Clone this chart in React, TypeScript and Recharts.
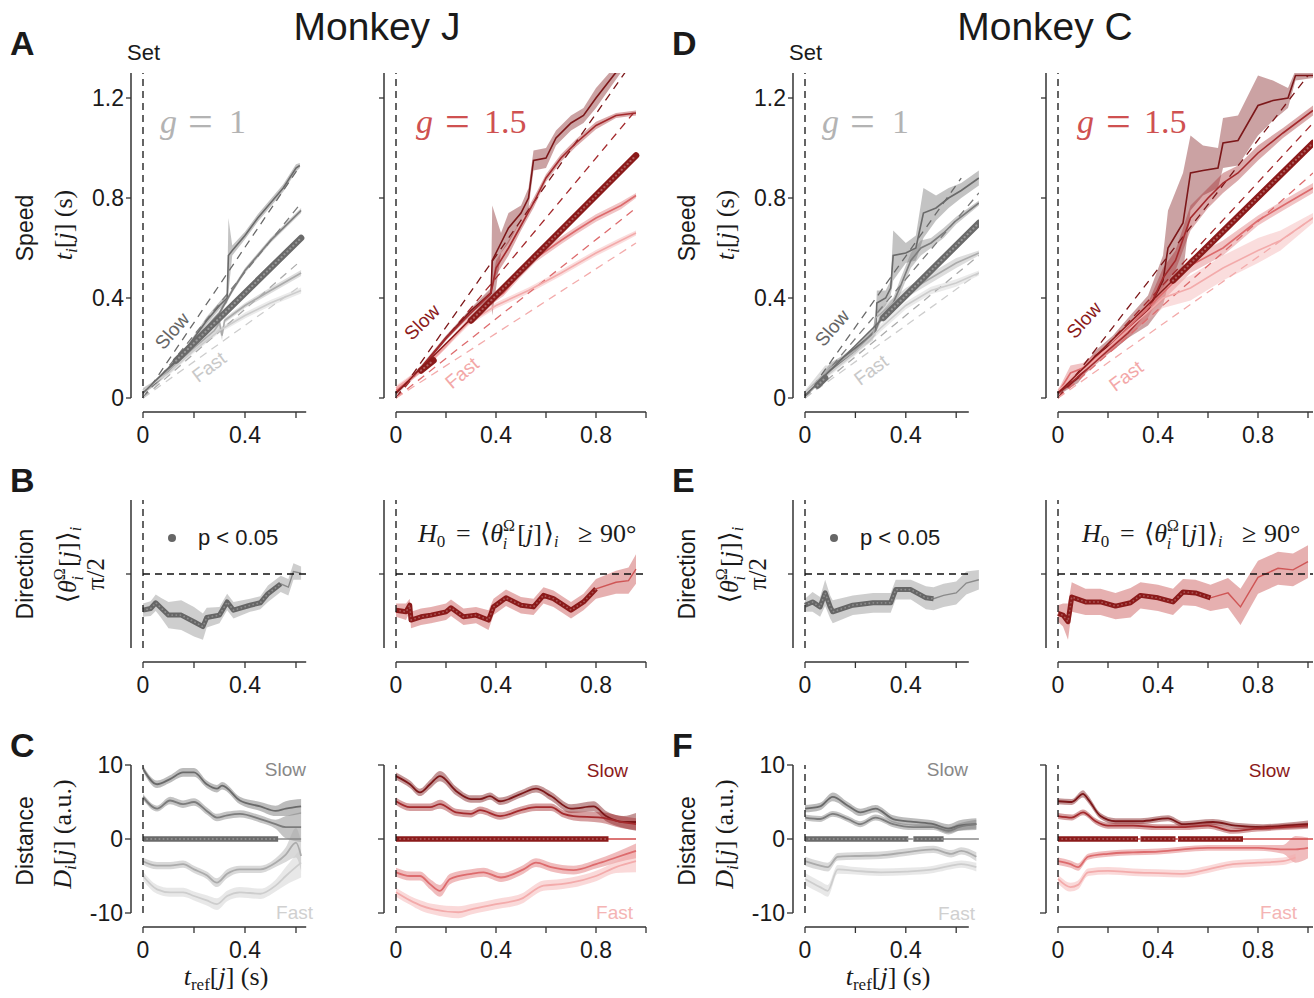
import React from 'react';
import { ComposedChart, Line, Area, XAxis, YAxis, ReferenceLine } from 'recharts';

type Pt = [number, number, number]; // [t_ref, value, spread]
type XY = [number, number];

// ---------- Speed: t_i[j] vs t_ref[j] ----------
const jSpeedG1Slow1: Pt[] = [[0, 0.03, 0.01], [0.05, 0.06, 0.01], [0.1, 0.11, 0.01], [0.15, 0.17, 0.01], [0.2, 0.24, 0.01], [0.25, 0.31, 0.015], [0.3, 0.37, 0.015], [0.33, 0.4, 0.02], [0.335, 0.57, 0.15], [0.35, 0.59, 0.02], [0.4, 0.65, 0.015], [0.45, 0.72, 0.015], [0.5, 0.78, 0.015], [0.55, 0.84, 0.015], [0.6, 0.92, 0.015], [0.615, 0.93, 0.01]];
const jSpeedG1Slow2: Pt[] = [[0, 0.02, 0.005], [0.1, 0.12, 0.005], [0.2, 0.23, 0.008], [0.3, 0.34, 0.01], [0.35, 0.43, 0.01], [0.4, 0.51, 0.01], [0.45, 0.57, 0.01], [0.5, 0.63, 0.01], [0.55, 0.68, 0.01], [0.6, 0.73, 0.01], [0.62, 0.75, 0.01]];
const jSpeedG1Fast1: Pt[] = [[0, 0.02, 0.01], [0.1, 0.11, 0.01], [0.2, 0.2, 0.01], [0.28, 0.27, 0.01], [0.3, 0.3, 0.03], [0.31, 0.25, 0.02], [0.32, 0.31, 0.01], [0.4, 0.37, 0.01], [0.5, 0.43, 0.012], [0.62, 0.5, 0.012]];
const jSpeedG1Fast2: Pt[] = [[0, 0.03, 0.01], [0.1, 0.1, 0.01], [0.2, 0.19, 0.01], [0.3, 0.27, 0.01], [0.4, 0.33, 0.012], [0.5, 0.38, 0.012], [0.62, 0.43, 0.012]];
const jSpeedG1Ref: XY[] = [[0, 0.02], [0.62, 0.64]];
const jSpeedG1RefSig: XY[][] = [[[0.13, 0.15], [0.62, 0.64]]];
const jSpeedG1Guide: XY[] = [[0.61, 0.92], [0.62, 0.78], [0.62, 0.55], [0.62, 0.45]];

const jSpeedG15Slow1: Pt[] = [[0, 0.02, 0.01], [0.1, 0.12, 0.01], [0.2, 0.24, 0.01], [0.3, 0.35, 0.01], [0.38, 0.42, 0.02], [0.385, 0.55, 0.22], [0.42, 0.62, 0.04], [0.45, 0.68, 0.06], [0.5, 0.74, 0.03], [0.53, 0.8, 0.04], [0.55, 0.95, 0.04], [0.6, 0.96, 0.04], [0.64, 1.04, 0.03], [0.7, 1.1, 0.03], [0.75, 1.13, 0.03], [0.8, 1.2, 0.04], [0.87, 1.29, 0.03], [0.92, 1.35, 0.02]];
const jSpeedG15Slow2: Pt[] = [[0, 0.02, 0.005], [0.1, 0.12, 0.005], [0.2, 0.24, 0.008], [0.3, 0.34, 0.01], [0.38, 0.42, 0.01], [0.4, 0.52, 0.03], [0.45, 0.6, 0.03], [0.5, 0.69, 0.02], [0.55, 0.78, 0.02], [0.6, 0.88, 0.015], [0.66, 0.96, 0.015], [0.72, 1.02, 0.015], [0.8, 1.09, 0.015], [0.88, 1.13, 0.01], [0.96, 1.14, 0.01]];
const jSpeedG15Fast1: Pt[] = [[0, 0.03, 0.01], [0.1, 0.11, 0.01], [0.2, 0.21, 0.01], [0.29, 0.31, 0.01], [0.36, 0.37, 0.012], [0.43, 0.42, 0.012], [0.5, 0.5, 0.015], [0.56, 0.56, 0.015], [0.66, 0.63, 0.015], [0.72, 0.67, 0.015], [0.8, 0.72, 0.015], [0.9, 0.77, 0.015], [0.96, 0.81, 0.01]];
const jSpeedG15Fast2: Pt[] = [[0, 0.04, 0.01], [0.1, 0.11, 0.01], [0.2, 0.21, 0.01], [0.29, 0.3, 0.01], [0.4, 0.37, 0.012], [0.53, 0.43, 0.012], [0.66, 0.5, 0.012], [0.8, 0.58, 0.012], [0.9, 0.63, 0.012], [0.96, 0.66, 0.01]];
const jSpeedG15Ref: XY[] = [[0, 0.02], [0.96, 0.97]];
const jSpeedG15RefSig: XY[][] = [[[0.1, 0.11], [0.15, 0.15]], [[0.3, 0.31], [0.96, 0.97]]];
const jSpeedG15Guide: XY[] = [[0.95, 1.35], [0.95, 1.14], [0.96, 0.76], [0.96, 0.62]];

const cSpeedG1Slow1: Pt[] = [[0, 0.01, 0.01], [0.05, 0.06, 0.01], [0.1, 0.12, 0.02], [0.15, 0.16, 0.01], [0.2, 0.2, 0.01], [0.25, 0.24, 0.02], [0.28, 0.27, 0.02], [0.285, 0.38, 0.05], [0.32, 0.4, 0.03], [0.34, 0.44, 0.03], [0.35, 0.57, 0.1], [0.4, 0.58, 0.04], [0.44, 0.6, 0.05], [0.47, 0.74, 0.1], [0.52, 0.76, 0.05], [0.57, 0.8, 0.04], [0.62, 0.83, 0.03], [0.69, 0.88, 0.03]];
const cSpeedG1Slow2: Pt[] = [[0, 0.01, 0.005], [0.1, 0.11, 0.005], [0.2, 0.19, 0.01], [0.28, 0.27, 0.01], [0.3, 0.32, 0.02], [0.35, 0.38, 0.02], [0.38, 0.45, 0.03], [0.42, 0.55, 0.03], [0.46, 0.6, 0.03], [0.5, 0.62, 0.02], [0.55, 0.66, 0.02], [0.6, 0.71, 0.015], [0.69, 0.78, 0.01]];
const cSpeedG1Fast1: Pt[] = [[0, 0.02, 0.01], [0.08, 0.1, 0.03], [0.1, 0.12, 0.01], [0.2, 0.19, 0.01], [0.27, 0.25, 0.02], [0.28, 0.32, 0.03], [0.35, 0.38, 0.02], [0.4, 0.42, 0.02], [0.5, 0.48, 0.02], [0.6, 0.54, 0.02], [0.69, 0.58, 0.01]];
const cSpeedG1Fast2: Pt[] = [[0, 0.02, 0.01], [0.1, 0.1, 0.01], [0.2, 0.18, 0.01], [0.3, 0.28, 0.015], [0.4, 0.37, 0.015], [0.5, 0.43, 0.015], [0.6, 0.46, 0.015], [0.69, 0.5, 0.01]];
const cSpeedG1Ref: XY[] = [[0, 0.01], [0.69, 0.7]];
const cSpeedG1RefSig: XY[][] = [[[0.05, 0.05], [0.08, 0.08]], [[0.31, 0.32], [0.69, 0.7]]];
const cSpeedG1Guide: XY[] = [[0.62, 0.88], [0.69, 0.82], [0.69, 0.57], [0.69, 0.5]];

const cSpeedG15Slow1: Pt[] = [[0, 0.02, 0.01], [0.08, 0.08, 0.02], [0.15, 0.17, 0.02], [0.22, 0.22, 0.03], [0.28, 0.28, 0.04], [0.36, 0.35, 0.06], [0.42, 0.47, 0.1], [0.44, 0.6, 0.15], [0.5, 0.7, 0.2], [0.53, 0.9, 0.15], [0.58, 0.91, 0.1], [0.64, 0.92, 0.08], [0.66, 1.02, 0.1], [0.72, 1.03, 0.1], [0.8, 1.17, 0.12], [0.86, 1.19, 0.08], [0.92, 1.2, 0.04], [0.95, 1.29, 0.02], [1.02, 1.29, 0.01]];
const cSpeedG15Slow2: Pt[] = [[0, 0.02, 0.01], [0.1, 0.1, 0.01], [0.2, 0.19, 0.015], [0.28, 0.26, 0.02], [0.36, 0.35, 0.03], [0.42, 0.48, 0.04], [0.47, 0.55, 0.04], [0.53, 0.72, 0.05], [0.6, 0.8, 0.04], [0.66, 0.86, 0.04], [0.72, 0.9, 0.03], [0.8, 0.98, 0.03], [0.9, 1.06, 0.02], [1.02, 1.15, 0.02]];
const cSpeedG15Fast1: Pt[] = [[0, 0.02, 0.01], [0.05, 0.1, 0.03], [0.1, 0.12, 0.02], [0.2, 0.2, 0.02], [0.3, 0.3, 0.02], [0.42, 0.42, 0.03], [0.53, 0.53, 0.03], [0.66, 0.6, 0.03], [0.8, 0.71, 0.02], [0.9, 0.77, 0.02], [1.02, 0.84, 0.02]];
const cSpeedG15Fast2: Pt[] = [[0, 0.03, 0.01], [0.1, 0.11, 0.02], [0.2, 0.2, 0.02], [0.3, 0.29, 0.03], [0.42, 0.4, 0.04], [0.53, 0.44, 0.05], [0.66, 0.52, 0.05], [0.8, 0.59, 0.05], [0.89, 0.63, 0.04], [1.02, 0.72, 0.02]];
const cSpeedG15Ref: XY[] = [[0, 0.02], [1.02, 1.02]];
const cSpeedG15RefSig: XY[][] = [[[0.46, 0.47], [1.02, 1.02]]];
const cSpeedG15Guide: XY[] = [[1.0, 1.29], [1.02, 1.1], [1.02, 0.9], [1.02, 0.72]];

// ---------- Direction: <theta>, degrees ----------
const jDirG1: Pt[] = [[0, 46, 8], [0.03, 48, 9], [0.05, 55, 10], [0.07, 49, 12], [0.1, 40, 16], [0.15, 40, 18], [0.2, 32, 18], [0.235, 26, 16], [0.25, 37, 12], [0.3, 40, 10], [0.33, 56, 10], [0.355, 46, 10], [0.42, 52, 8], [0.46, 55, 8], [0.49, 66, 10], [0.54, 78, 10], [0.57, 74, 10], [0.59, 93, 10], [0.62, 91, 8]];
const jDirG1Sig = 0.56;
const jDirG15: Pt[] = [[0, 46, 8], [0.04, 44, 10], [0.055, 52, 8], [0.06, 34, 10], [0.1, 38, 10], [0.14, 40, 10], [0.2, 44, 10], [0.22, 49, 10], [0.27, 38, 10], [0.32, 40, 10], [0.37, 34, 12], [0.39, 50, 10], [0.44, 61, 10], [0.5, 52, 10], [0.55, 50, 10], [0.59, 64, 10], [0.63, 60, 10], [0.7, 46, 10], [0.75, 56, 10], [0.8, 72, 12], [0.88, 80, 14], [0.93, 82, 16], [0.96, 96, 18]];
const jDirG15Sig = 0.8;
const cDirG1: Pt[] = [[0, 52, 8], [0.03, 56, 12], [0.06, 50, 12], [0.08, 67, 16], [0.1, 50, 14], [0.11, 44, 14], [0.19, 52, 12], [0.27, 55, 12], [0.34, 55, 12], [0.36, 71, 12], [0.42, 71, 12], [0.48, 61, 14], [0.51, 60, 14], [0.55, 64, 14], [0.6, 67, 14], [0.64, 79, 14], [0.69, 83, 12]];
const cDirG1Sig = 0.52;
const cDirG15: Pt[] = [[0, 42, 10], [0.02, 40, 14], [0.04, 32, 22], [0.055, 62, 18], [0.11, 56, 16], [0.17, 56, 16], [0.23, 51, 16], [0.29, 55, 18], [0.33, 64, 16], [0.4, 61, 16], [0.46, 56, 16], [0.5, 68, 16], [0.55, 67, 16], [0.61, 61, 16], [0.68, 67, 18], [0.73, 50, 22], [0.8, 86, 20], [0.88, 97, 20], [0.94, 95, 20], [1.0, 105, 20]];
const cDirG15Sig = 0.62;

// ---------- Distance: D_i[j], a.u. ----------
const jDistG1Slow1: Pt[] = [[0, 9.5, 0.4], [0.055, 7.4, 0.5], [0.106, 8.1, 0.5], [0.157, 9, 0.6], [0.2, 9, 0.6], [0.25, 7.4, 0.5], [0.29, 6.8, 0.5], [0.31, 7.2, 0.5], [0.38, 5.2, 0.5], [0.46, 4.4, 0.6], [0.52, 3.8, 0.7], [0.56, 4.1, 1.0], [0.62, 4.4, 1.0]];
const jDistG1Slow2: Pt[] = [[0, 5.7, 0.4], [0.055, 4.1, 0.4], [0.106, 5.2, 0.5], [0.157, 4.7, 0.5], [0.2, 5, 0.5], [0.25, 3.8, 0.5], [0.29, 2.9, 0.5], [0.33, 3.2, 0.5], [0.38, 3.4, 0.5], [0.46, 2.7, 0.5], [0.52, 2, 0.6], [0.56, 1.6, 1.5], [0.62, 1.6, 2]];
const jDistG1Fast1: Pt[] = [[0, -3, 0.5], [0.055, -3.6, 0.5], [0.106, -3.6, 0.5], [0.157, -3.4, 0.5], [0.2, -4.1, 0.5], [0.25, -4.9, 0.5], [0.29, -5.9, 0.6], [0.33, -4.7, 0.6], [0.38, -4.1, 0.5], [0.46, -4.1, 0.5], [0.52, -3.2, 0.6], [0.56, -2.1, 1], [0.6, -0.5, 2], [0.62, -2.3, 2]];
const jDistG1Fast2: Pt[] = [[0, -5, 0.6], [0.055, -6.8, 0.6], [0.106, -7.2, 0.6], [0.157, -7.2, 0.6], [0.2, -7.7, 0.6], [0.25, -8.3, 0.7], [0.29, -8.8, 0.8], [0.33, -7.7, 0.7], [0.38, -7.2, 0.7], [0.46, -7.4, 0.7], [0.52, -6.3, 0.8], [0.56, -5, 1.2], [0.62, -3.2, 2]];
const jDistG1ZeroEnd = 0.62;
const jDistG1ZeroSig: XY[] = [[0, 0.53]];

const jDistG15Slow1: Pt[] = [[0, 8.5, 0.5], [0.056, 7.4, 0.5], [0.096, 6.3, 0.5], [0.136, 7.4, 0.6], [0.176, 8.5, 0.7], [0.24, 6.5, 0.6], [0.3, 5.4, 0.5], [0.336, 5.4, 0.5], [0.376, 5.8, 0.5], [0.416, 5.1, 0.5], [0.5, 6.1, 0.5], [0.56, 6.8, 0.5], [0.62, 5.8, 0.6], [0.7, 4.1, 0.6], [0.79, 4.4, 0.7], [0.84, 3.1, 0.7], [0.91, 2.3, 0.8], [0.96, 2.3, 1.2]];
const jDistG15Slow2: Pt[] = [[0, 5.1, 0.5], [0.056, 4.3, 0.5], [0.096, 4.3, 0.5], [0.136, 4.3, 0.5], [0.176, 4.7, 0.6], [0.24, 3.6, 0.5], [0.3, 3.4, 0.5], [0.336, 3.9, 0.5], [0.416, 3.1, 0.5], [0.5, 3.9, 0.5], [0.56, 4.3, 0.5], [0.62, 4.3, 0.5], [0.67, 3.4, 0.5], [0.71, 3.1, 0.6], [0.82, 2.9, 0.7], [0.9, 2.3, 0.8], [0.96, 2.0, 0.8]];
const jDistG15Fast1: Pt[] = [[0, -4.5, 0.6], [0.056, -5, 0.6], [0.096, -5, 0.6], [0.136, -6.1, 0.7], [0.176, -7, 0.8], [0.216, -5.4, 0.7], [0.3, -4.7, 0.6], [0.35, -4.5, 0.6], [0.42, -5.2, 0.6], [0.51, -4.1, 0.6], [0.56, -3.2, 0.6], [0.62, -3.8, 0.6], [0.71, -4.2, 0.6], [0.8, -3.4, 0.6], [0.88, -2.5, 0.7], [0.96, -1.6, 1]];
const jDistG15Fast2: Pt[] = [[0, -7.2, 0.6], [0.056, -8.3, 0.6], [0.1, -9, 0.7], [0.15, -9.5, 0.7], [0.25, -9.9, 0.8], [0.3, -9.5, 0.7], [0.4, -8.8, 0.7], [0.5, -8.1, 0.7], [0.59, -6.3, 0.7], [0.66, -6.1, 0.7], [0.7, -5.9, 0.7], [0.8, -5, 0.7], [0.88, -3.8, 0.8], [0.96, -3, 1.5]];
const jDistG15ZeroEnd = 0.96;
const jDistG15ZeroSig: XY[] = [[0, 0.85]];

const cDistG1Slow1: Pt[] = [[0, 4.1, 0.5], [0.06, 4.4, 0.5], [0.11, 5.7, 0.6], [0.17, 4.5, 0.5], [0.22, 3.6, 0.5], [0.28, 4.1, 0.5], [0.35, 2.7, 0.5], [0.43, 2.3, 0.5], [0.51, 2, 0.5], [0.57, 1.4, 0.6], [0.61, 1.8, 0.7], [0.68, 2, 0.8]];
const cDistG1Slow2: Pt[] = [[0, 2.9, 0.4], [0.06, 2.7, 0.4], [0.11, 3.4, 0.4], [0.17, 2.7, 0.4], [0.22, 2, 0.4], [0.28, 2.9, 0.4], [0.35, 2, 0.4], [0.43, 1.6, 0.4], [0.51, 1.6, 0.4], [0.57, 1.1, 0.5], [0.61, 1.6, 0.5], [0.68, 2, 0.6]];
const cDistG1Fast1: Pt[] = [[0, -3, 0.6], [0.06, -3.6, 0.6], [0.09, -3.8, 0.6], [0.13, -2.4, 0.5], [0.2, -2.3, 0.5], [0.3, -2.2, 0.5], [0.4, -1.8, 0.5], [0.51, -1.4, 0.5], [0.58, -2, 0.5], [0.62, -1.6, 0.5], [0.68, -2.4, 0.6]];
const cDistG1Fast2: Pt[] = [[0, -5.4, 0.8], [0.06, -6.5, 0.8], [0.09, -7, 0.8], [0.13, -4.1, 0.6], [0.2, -4.3, 0.5], [0.3, -4.5, 0.5], [0.4, -4.4, 0.5], [0.51, -4.1, 0.5], [0.58, -3.6, 0.5], [0.62, -3.4, 0.5], [0.68, -3.8, 0.6]];
const cDistG1ZeroEnd = 0.69;
const cDistG1ZeroSig: XY[] = [[0, 0.41], [0.43, 0.55]];

const cDistG15Slow1: Pt[] = [[0, 5.1, 0.4], [0.055, 5, 0.4], [0.1, 6.1, 0.5], [0.12, 5.4, 0.5], [0.17, 3.1, 0.4], [0.23, 2.4, 0.4], [0.33, 2.4, 0.4], [0.44, 2.8, 0.4], [0.5, 2, 0.4], [0.62, 2.3, 0.4], [0.71, 1.8, 0.4], [0.82, 1.6, 0.4], [0.91, 1.8, 0.4], [1.0, 2, 0.5]];
const cDistG15Slow2: Pt[] = [[0, 3.1, 0.4], [0.055, 2.9, 0.4], [0.1, 3.6, 0.4], [0.15, 2.4, 0.4], [0.2, 1.8, 0.4], [0.3, 1.8, 0.4], [0.4, 1.6, 0.4], [0.5, 1.6, 0.4], [0.6, 1.8, 0.4], [0.7, 1.1, 0.4], [0.8, 1.4, 0.4], [0.9, 1.6, 0.4], [1.0, 1.8, 0.4]];
const cDistG15Fast1: Pt[] = [[0, -3, 0.5], [0.05, -3.4, 0.5], [0.08, -3.8, 0.5], [0.12, -2.4, 0.4], [0.2, -2, 0.4], [0.3, -1.8, 0.4], [0.4, -1.7, 0.4], [0.5, -1.4, 0.4], [0.6, -1.2, 0.4], [0.7, -1.2, 0.4], [0.8, -1.2, 0.4], [0.9, -1.4, 0.6], [0.95, -1.4, 1.8], [1.0, -1.2, 1.4]];
const cDistG15Fast2: Pt[] = [[0, -5.4, 0.6], [0.05, -6.5, 0.6], [0.08, -6.2, 0.6], [0.12, -4.5, 0.5], [0.2, -4.3, 0.5], [0.3, -4.5, 0.5], [0.4, -4.6, 0.5], [0.5, -4.7, 0.5], [0.6, -4.1, 0.5], [0.7, -3.4, 0.5], [0.8, -3.2, 0.5], [0.9, -3, 0.5], [0.95, -2.5, 0.5]];
const cDistG15ZeroEnd = 1.02;
const cDistG15ZeroSig: XY[] = [[0, 0.32], [0.33, 0.47], [0.48, 0.74]];

// ticks
const SPEED_TICKS = [0, 0.4, 0.8, 1.2];
const DIR_TICKS = [90];
const DIST_TICKS = [-10, 0, 10];
const X_TICKS_SHORT = [0, 0.2, 0.4, 0.6];
const X_TICKS_LONG = [0, 0.2, 0.4, 0.6, 0.8, 1.0];
const X_LABELLED = [0, 0.4, 0.8];

// palettes: slow1, slow2, fast1, fast2
const GREYS = ['#6a6a6a', '#7c7c7c', '#ababab', '#cdcdcd'];
const GREY_REF = '#6a6a6a';
const REDS = ['#7c1719', '#a42a2d', '#dd6b6d', '#f3abab'];
const RED_REF = '#8b1a1a';

const SANS = "'Liberation Sans', Arial, Helvetica, sans-serif";
const SERIF = "'Liberation Serif', 'DejaVu Serif', 'Times New Roman', serif";
const INK = '#1a1a1a';

// layout (page pixels)
const YW = 60;
const MT = 12;
const XH = 40;
const COLS = [
  { left: 131, x0: 143, scale: 255, xMax: 0.645, axisEnd: 0.64, ticks: X_TICKS_SHORT, mr: 8 },
  { left: 384, x0: 396, scale: 250, xMax: 1.0, axisEnd: 1.0, ticks: X_TICKS_LONG, mr: 8 },
  { left: 793, x0: 805, scale: 252, xMax: 0.69, axisEnd: 0.65, ticks: X_TICKS_SHORT, mr: 8 },
  { left: 1046, x0: 1058, scale: 250, xMax: 1.02, axisEnd: 1.02, ticks: X_TICKS_LONG, mr: 0 },
];
const ROWS = [
  { top: 73, y0: 398, bottom: 412, yTop: 1.3, yLow: 0, ticks: SPEED_TICKS },
  { top: 500, y0: 648, bottom: 662, yTop: 180, yLow: 0, ticks: DIR_TICKS },
  { top: 765, y0: 839, bottom: 927, yTop: 10, yLow: -10, ticks: DIST_TICKS },
];

const rows = (pts: Pt[]) => pts.map(([t, y, s]) => ({ t, y, band: [y - s, y + s] }));
const seg = (a: XY, b: XY) => [{ t: a[0], y: a[1] }, { t: b[0], y: b[1] }];

function speedSeries(id: string, trajs: Pt[][], guides: XY[], refLine: XY[], refSig: XY[][], pal: string[], refColor: string) {
  const out: React.ReactNode[] = [];
  trajs.forEach((p, i) => out.push(
    <Area key={`${id}b${i}`} data={rows(p)} dataKey="band" type="linear" stroke="none" fill={pal[i]} fillOpacity={0.4} dot={false} activeDot={false} isAnimationActive={false} />
  ));
  guides.forEach((g, i) => out.push(
    <Line key={`${id}g${i}`} data={seg([0, 0], g)} dataKey="y" stroke={pal[i]} strokeWidth={1.3} strokeDasharray="8 6" dot={false} activeDot={false} isAnimationActive={false} />
  ));
  trajs.forEach((p, i) => out.push(
    <Line key={`${id}l${i}`} data={rows(p)} dataKey="y" type="linear" stroke={pal[i]} strokeWidth={1.6} dot={false} activeDot={false} isAnimationActive={false} />
  ));
  out.push(<Line key={`${id}r`} data={seg(refLine[0], refLine[1])} dataKey="y" stroke={refColor} strokeWidth={1.5} dot={false} activeDot={false} isAnimationActive={false} />);
  refSig.forEach((s, i) => {
    out.push(
      <Line key={`${id}s${i}`} data={seg(s[0], s[1])} dataKey="y" stroke={refColor} strokeWidth={6.5} strokeLinecap="round" dot={false} activeDot={false} isAnimationActive={false} />
    );
    out.push(
      <Line key={`${id}sd${i}`} data={seg(s[0], s[1])} dataKey="y" stroke="#ffffff" strokeOpacity={0.3} strokeWidth={2.2} strokeDasharray="0.1 4" strokeLinecap="round" dot={false} activeDot={false} isAnimationActive={false} />
    );
  });
  return out;
}

function dirSeries(id: string, pts: Pt[], sigEnd: number, band: string, thin: string, thick: string) {
  const all = rows(pts);
  const sig = all.filter((d) => d.t <= sigEnd);
  return [
    <Area key={`${id}b`} data={all} dataKey="band" type="linear" stroke="none" fill={band} fillOpacity={0.75} dot={false} activeDot={false} isAnimationActive={false} />,
    <Line key={`${id}l`} data={all} dataKey="y" type="linear" stroke={thin} strokeWidth={1.4} dot={false} activeDot={false} isAnimationActive={false} />,
    <Line key={`${id}s`} data={sig} dataKey="y" type="linear" stroke={thick} strokeWidth={5} strokeLinejoin="round" dot={false} activeDot={false} isAnimationActive={false} />,
    <Line key={`${id}sd`} data={sig} dataKey="y" type="linear" stroke="#ffffff" strokeOpacity={0.25} strokeWidth={1.8} strokeDasharray="0.1 4" strokeLinecap="round" dot={false} activeDot={false} isAnimationActive={false} />,
  ];
}

function distSeries(id: string, trajs: Pt[][], zeroEnd: number, zeroSig: XY[], pal: string[], zeroColor: string, zeroThin: string) {
  const out: React.ReactNode[] = [];
  trajs.forEach((p, i) => out.push(
    <Area key={`${id}b${i}`} data={rows(p)} dataKey="band" type="monotone" stroke="none" fill={pal[i]} fillOpacity={0.45} dot={false} activeDot={false} isAnimationActive={false} />
  ));
  trajs.forEach((p, i) => out.push(
    <Line key={`${id}l${i}`} data={rows(p)} dataKey="y" type="monotone" stroke={pal[i]} strokeWidth={1.8} dot={false} activeDot={false} isAnimationActive={false} />
  ));
  out.push(<Line key={`${id}z`} data={seg([0, 0], [zeroEnd, 0])} dataKey="y" stroke={zeroThin} strokeWidth={1.4} dot={false} activeDot={false} isAnimationActive={false} />);
  zeroSig.forEach((s, i) => {
    out.push(
      <Line key={`${id}zs${i}`} data={seg([s[0], 0], [s[1], 0])} dataKey="y" stroke={zeroColor} strokeWidth={5.5} dot={false} activeDot={false} isAnimationActive={false} />
    );
    out.push(
      <Line key={`${id}zd${i}`} data={seg([s[0], 0], [s[1], 0])} dataKey="y" stroke="#ffffff" strokeOpacity={0.25} strokeWidth={2} strokeDasharray="0.1 4" strokeLinecap="round" dot={false} activeDot={false} isAnimationActive={false} />
    );
  });
  return out;
}

const fmtX = (v: number) => (X_LABELLED.includes(v) ? (v === 0 ? '0' : v.toFixed(1)) : '');
const fmtSpeed = (v: number) => (v === 0 ? '0' : v.toFixed(1));
const fmtDist = (v: number) => String(v);
const noLabel = () => '';

const PiTick = (props: any) => {
  const { x, y } = props;
  return (
    <text transform={`translate(${x - 20},${y}) rotate(-90)`} textAnchor="middle" fontFamily={SERIF} fontSize={25} fill={INK}>
      π/2
    </text>
  );
};

interface PanelProps {
  c: number;
  r: number;
  yFmt?: (v: number) => string;
  pi?: boolean;
  children: React.ReactNode;
}

function Panel({ c, r, yFmt, pi, children }: PanelProps) {
  const col = COLS[c];
  const row = ROWS[r];
  const xMin = -(col.x0 - col.left) / col.scale;
  const plotW = col.x0 - col.left + col.xMax * col.scale;
  const ys = (row.y0 - row.top) / row.yTop;
  const yMin = -(row.bottom - row.y0) / ys;
  const plotH = row.bottom - row.top;
  const tickFont = { fill: INK, fontSize: 23, fontFamily: SANS };
  return (
    <div style={{ position: 'absolute', left: col.left - YW, top: row.top - MT }}>
      <ComposedChart width={YW + plotW + col.mr} height={MT + plotH + XH} margin={{ top: MT, right: col.mr, bottom: 0, left: 0 }}>
        <XAxis type="number" dataKey="t" domain={[xMin, col.xMax]} ticks={col.ticks} interval={0} allowDataOverflow axisLine={false}
          tickLine={{ stroke: '#333', strokeWidth: 1.3 }} tickSize={6} tickMargin={9} tick={tickFont} tickFormatter={fmtX} height={XH} />
        <YAxis type="number" domain={[yMin, row.yTop]} ticks={row.ticks} interval={0} allowDataOverflow axisLine={false}
          tickLine={{ stroke: '#333', strokeWidth: 1.3 }} tickSize={r === 2 ? 6 : 5} tickMargin={2} width={YW}
          tick={pi ? PiTick : tickFont} tickFormatter={yFmt || noLabel} />
        {children}
        <ReferenceLine segment={[{ x: xMin, y: row.yLow }, { x: xMin, y: row.yTop }]} stroke="#333" strokeWidth={1.5} ifOverflow="visible" />
        <ReferenceLine segment={[{ x: 0, y: yMin }, { x: col.axisEnd, y: yMin }]} stroke="#333" strokeWidth={1.5} ifOverflow="visible" />
        <ReferenceLine segment={[{ x: 0, y: row.yLow }, { x: 0, y: row.yTop }]} stroke="#111" strokeWidth={1.3} strokeDasharray="7 5" ifOverflow="visible" />
        {r === 1 && (
          <ReferenceLine segment={[{ x: 0, y: 90 }, { x: col.axisEnd, y: 90 }]} stroke="#111" strokeWidth={1.3} strokeDasharray="7 5" ifOverflow="visible" />
        )}
      </ComposedChart>
    </div>
  );
}

function MonkeyText({ dx, letters, title, titleX }: { dx: number; letters: string[]; title: string; titleX: number }) {
  const sub = { fontSize: 17, fontStyle: 'italic' as const };
  return (
    <g>
      <text x={titleX} y={40} textAnchor="middle" fontFamily={SANS} fontSize={39} fill={INK}>{title}</text>
      <g transform={`translate(${dx},0)`}>
        <text x={10} y={55} fontFamily={SANS} fontSize={34} fontWeight="bold" fill={INK}>{letters[0]}</text>
        <text x={10} y={492} fontFamily={SANS} fontSize={34} fontWeight="bold" fill={INK}>{letters[1]}</text>
        <text x={10} y={757} fontFamily={SANS} fontSize={34} fontWeight="bold" fill={INK}>{letters[2]}</text>
        <text x={127} y={60} fontFamily={SANS} fontSize={22} fill={INK}>Set</text>

        <text transform="translate(33,228) rotate(-90)" textAnchor="middle" fontFamily={SANS} fontSize={23} fill={INK}>Speed</text>
        <text transform="translate(72,225) rotate(-90)" textAnchor="middle" fontFamily={SERIF} fontSize={26} fill={INK}>
          <tspan fontStyle="italic">t</tspan><tspan {...sub} dy={5}>i</tspan><tspan dy={-5}>[</tspan><tspan fontStyle="italic">j</tspan><tspan>] (s)</tspan>
        </text>

        <text transform="translate(33,574) rotate(-90)" textAnchor="middle" fontFamily={SANS} fontSize={23} fill={INK}>Direction</text>
        <text transform="translate(76,565) rotate(-90)" textAnchor="middle" fontFamily={SERIF} fontSize={26} fill={INK}>
          <tspan>⟨</tspan><tspan fontStyle="italic">θ</tspan><tspan fontSize={16} dy={-11}>Ω</tspan><tspan {...sub} fontSize={16} dx={-12} dy={18}>i</tspan>
          <tspan dx={9} dy={-7}>[</tspan><tspan fontStyle="italic">j</tspan><tspan>]</tspan><tspan dx={1}>⟩</tspan><tspan {...sub} fontSize={16} dy={5}>i</tspan>
        </text>

        <text transform="translate(33,841) rotate(-90)" textAnchor="middle" fontFamily={SANS} fontSize={23} fill={INK}>Distance</text>
        <text transform="translate(71,834) rotate(-90)" textAnchor="middle" fontFamily={SERIF} fontSize={26} fill={INK}>
          <tspan fontStyle="italic">D</tspan><tspan {...sub} dy={5}>i</tspan><tspan dy={-5}>[</tspan><tspan fontStyle="italic">j</tspan><tspan>]  (a.u.)</tspan>
        </text>

        <text x={226} y={985} textAnchor="middle" fontFamily={SERIF} fontSize={26} fill={INK}>
          <tspan fontStyle="italic">t</tspan><tspan fontSize={17} dy={5}>ref</tspan><tspan dy={-5}>[</tspan><tspan fontStyle="italic">j</tspan><tspan>]  (s)</tspan>
        </text>
      </g>
    </g>
  );
}

function GLabel({ x, y, value, color, eqX, numX }: { x: number; y: number; value: string; color: string; eqX: number; numX: number }) {
  return (
    <text y={y} fontFamily={SERIF} fontSize={34} fill={color}>
      <tspan x={x} fontStyle="italic">g</tspan>
      <tspan x={eqX} fontSize={44} dy={3}>=</tspan>
      <tspan x={numX} dy={-3}>{value}</tspan>
    </text>
  );
}

function H0Label({ x }: { x: number }) {
  return (
    <text y={542} fontFamily={SERIF} fontSize={26} fill={INK}>
      <tspan x={x} fontStyle="italic">H</tspan><tspan fontSize={17} dy={5}>0</tspan>
      <tspan x={x + 38} dy={-5}>=</tspan>
      <tspan x={x + 62}>⟨</tspan><tspan fontStyle="italic">θ</tspan><tspan fontSize={16} dy={-11}>Ω</tspan>
      <tspan fontSize={16} fontStyle="italic" dx={-12} dy={18}>i</tspan>
      <tspan dx={10} dy={-7}>[</tspan><tspan fontStyle="italic">j</tspan><tspan>]</tspan><tspan dx={2}>⟩</tspan>
      <tspan fontSize={16} fontStyle="italic" dy={5}>i</tspan>
      <tspan x={x + 160} dy={-5}>≥</tspan>
      <tspan x={x + 182}>90°</tspan>
    </text>
  );
}

function Rot({ x, y, a, color, children }: { x: number; y: number; a: number; color: string; children: string }) {
  return (
    <text transform={`translate(${x},${y}) rotate(${a})`} textAnchor="middle" dominantBaseline="central" fontFamily={SANS} fontSize={19} fill={color}>
      {children}
    </text>
  );
}

function Overlay() {
  return (
    <svg width={1314} height={998} style={{ position: 'absolute', left: 0, top: 0, pointerEvents: 'none' }}>
      <MonkeyText dx={0} letters={['A', 'B', 'C']} title="Monkey J" titleX={377} />
      <MonkeyText dx={662} letters={['D', 'E', 'F']} title="Monkey C" titleX={1045} />

      <GLabel x={160} y={133} value="1" color="#b3b3b3" eqX={188} numX={229} />
      <GLabel x={416} y={133} value="1.5" color="#cf5151" eqX={445} numX={484} />
      <GLabel x={822} y={133} value="1" color="#b3b3b3" eqX={850} numX={892} />
      <GLabel x={1077} y={133} value="1.5" color="#cf5151" eqX={1106} numX={1144} />

      <Rot x={172} y={331} a={-49} color="#666">Slow</Rot>
      <Rot x={209} y={367} a={-37} color="#c8c8c8">Fast</Rot>
      <Rot x={422} y={322} a={-45} color="#8b1a1a">Slow</Rot>
      <Rot x={462} y={373} a={-40} color="#f3a8a8">Fast</Rot>
      <Rot x={832} y={328} a={-49} color="#666">Slow</Rot>
      <Rot x={871} y={370} a={-37} color="#c8c8c8">Fast</Rot>
      <Rot x={1084} y={320} a={-48} color="#8b1a1a">Slow</Rot>
      <Rot x={1126} y={376} a={-37} color="#f3a8a8">Fast</Rot>

      <circle cx={172} cy={538} r={4} fill="#666" />
      <text x={198} y={545} fontFamily={SANS} fontSize={22} fill={INK}>{'p < 0.05'}</text>
      <circle cx={834} cy={538} r={4} fill="#666" />
      <text x={860} y={545} fontFamily={SANS} fontSize={22} fill={INK}>{'p < 0.05'}</text>
      <H0Label x={418} />
      <H0Label x={1082} />

      <text x={306} y={776} textAnchor="end" fontFamily={SANS} fontSize={19} fill="#888">Slow</text>
      <text x={313} y={919} textAnchor="end" fontFamily={SANS} fontSize={19} fill="#d0d0d0">Fast</text>
      <text x={628} y={777} textAnchor="end" fontFamily={SANS} fontSize={19} fill="#8b1a1a">Slow</text>
      <text x={633} y={919} textAnchor="end" fontFamily={SANS} fontSize={19} fill="#f4b4b4">Fast</text>
      <text x={968} y={776} textAnchor="end" fontFamily={SANS} fontSize={19} fill="#888">Slow</text>
      <text x={975} y={920} textAnchor="end" fontFamily={SANS} fontSize={19} fill="#d0d0d0">Fast</text>
      <text x={1290} y={777} textAnchor="end" fontFamily={SANS} fontSize={19} fill="#8b1a1a">Slow</text>
      <text x={1297} y={919} textAnchor="end" fontFamily={SANS} fontSize={19} fill="#f4b4b4">Fast</text>
    </svg>
  );
}

export default function App() {
  return (
    <div style={{ position: 'absolute', left: 0, top: 0, width: 1314, height: 998, overflow: 'hidden', background: '#fff' }}>
      {/* Speed */}
      <Panel c={0} r={0} yFmt={fmtSpeed}>
        {speedSeries('a1', [jSpeedG1Slow1, jSpeedG1Slow2, jSpeedG1Fast1, jSpeedG1Fast2], jSpeedG1Guide, jSpeedG1Ref, jSpeedG1RefSig, GREYS, GREY_REF)}
      </Panel>
      <Panel c={1} r={0}>
        {speedSeries('a2', [jSpeedG15Slow1, jSpeedG15Slow2, jSpeedG15Fast1, jSpeedG15Fast2], jSpeedG15Guide, jSpeedG15Ref, jSpeedG15RefSig, REDS, RED_REF)}
      </Panel>
      <Panel c={2} r={0} yFmt={fmtSpeed}>
        {speedSeries('d1', [cSpeedG1Slow1, cSpeedG1Slow2, cSpeedG1Fast1, cSpeedG1Fast2], cSpeedG1Guide, cSpeedG1Ref, cSpeedG1RefSig, GREYS, GREY_REF)}
      </Panel>
      <Panel c={3} r={0}>
        {speedSeries('d2', [cSpeedG15Slow1, cSpeedG15Slow2, cSpeedG15Fast1, cSpeedG15Fast2], cSpeedG15Guide, cSpeedG15Ref, cSpeedG15RefSig, REDS, RED_REF)}
      </Panel>

      {/* Direction */}
      <Panel c={0} r={1} pi>
        {dirSeries('b1', jDirG1, jDirG1Sig, '#bdbdbd', '#8a8a8a', '#666')}
      </Panel>
      <Panel c={1} r={1}>
        {dirSeries('b2', jDirG15, jDirG15Sig, '#de9595', '#cf5555', '#8b1a1a')}
      </Panel>
      <Panel c={2} r={1} pi>
        {dirSeries('e1', cDirG1, cDirG1Sig, '#bdbdbd', '#8a8a8a', '#666')}
      </Panel>
      <Panel c={3} r={1}>
        {dirSeries('e2', cDirG15, cDirG15Sig, '#de9595', '#cf5555', '#8b1a1a')}
      </Panel>

      {/* Distance */}
      <Panel c={0} r={2} yFmt={fmtDist}>
        {distSeries('c1', [jDistG1Slow1, jDistG1Slow2, jDistG1Fast1, jDistG1Fast2], jDistG1ZeroEnd, jDistG1ZeroSig, GREYS, GREY_REF, '#888')}
      </Panel>
      <Panel c={1} r={2}>
        {distSeries('c2', [jDistG15Slow1, jDistG15Slow2, jDistG15Fast1, jDistG15Fast2], jDistG15ZeroEnd, jDistG15ZeroSig, REDS, RED_REF, '#d04848')}
      </Panel>
      <Panel c={2} r={2} yFmt={fmtDist}>
        {distSeries('f1', [cDistG1Slow1, cDistG1Slow2, cDistG1Fast1, cDistG1Fast2], cDistG1ZeroEnd, cDistG1ZeroSig, GREYS, GREY_REF, '#888')}
      </Panel>
      <Panel c={3} r={2}>
        {distSeries('f2', [cDistG15Slow1, cDistG15Slow2, cDistG15Fast1, cDistG15Fast2], cDistG15ZeroEnd, cDistG15ZeroSig, REDS, RED_REF, '#d04848')}
      </Panel>

      <Overlay />
    </div>
  );
}
